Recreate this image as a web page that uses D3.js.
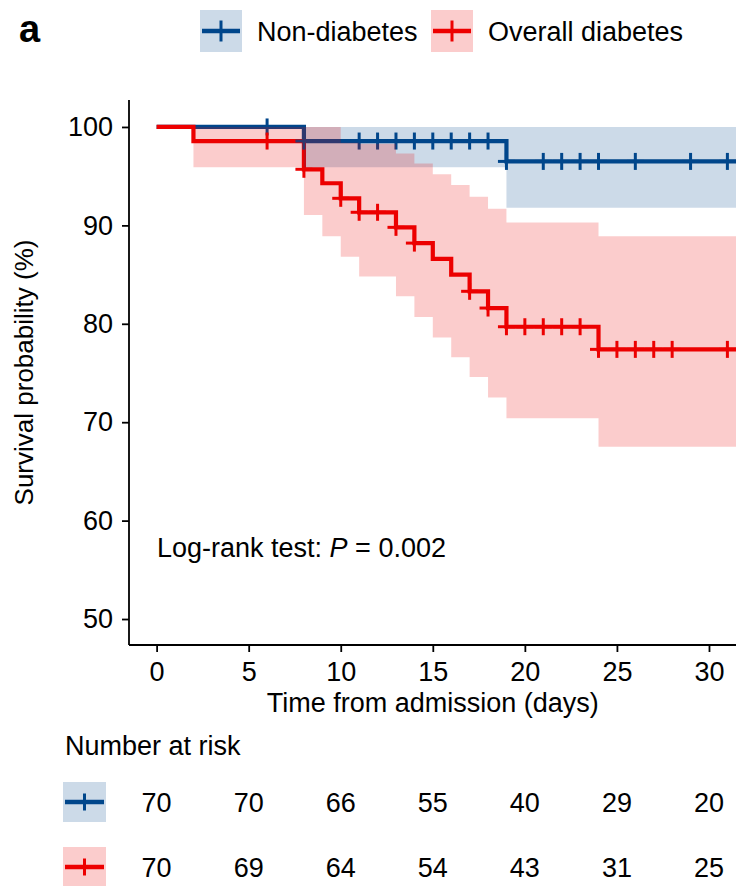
<!DOCTYPE html>
<html>
<head>
<meta charset="utf-8">
<script src="https://cdn.jsdelivr.net/npm/d3@7"></script>
<style>
  html, body { margin: 0; padding: 0; background: #fff; }
  svg { display: block; font-family: "Liberation Sans", Arial, sans-serif; }
</style>
</head>
<body>
<svg id="chart" width="736" height="886"></svg>
<script>
// ---------------- data ----------------
const groupNames = ["Non-diabetes", "Overall diabetes"];
const groupColors = ["#00468B", "#ED0000"];

// Non-diabetes KM step function
const blueTimes = [0, 8, 19];
const blueSurv  = [100, 98.57, 96.5];
const blueUpper = [100, 100, 100];
const blueLower = [100, 95.9, 91.8];
const blueCensor = [6, 8, 11, 12, 13, 14, 15, 16, 17, 18, 19, 21, 22, 23, 24, 26, 29, 31];

// Overall diabetes KM step function
const redTimes = [0, 2, 8, 9, 10, 11, 13, 14, 15, 16, 17, 18, 19, 24];
const redSurv  = [100, 98.57, 95.7, 94.28, 92.75, 91.33, 89.8, 88.2, 86.6, 85.0, 83.3, 81.6, 79.7, 77.4];
const redUpper = [100, 100, 100, 100, 98.4, 98.3, 97.3, 96.3, 95.2, 94.1, 92.9, 91.7, 90.3, 88.9];
const redLower = [100, 95.9, 91.06, 88.9, 86.8, 84.8, 82.8, 80.7, 78.6, 76.6, 74.6, 72.5, 70.4, 67.5];
const redCensor = [6, 8, 10, 11, 12, 13, 14, 17, 18, 19, 20, 21, 22, 23, 24, 25, 26, 27, 28, 31];

const followEnd = 32;

const xTicks = [0, 5, 10, 15, 20, 25, 30];
const yTicks = [50, 60, 70, 80, 90, 100];

const riskTimes = [0, 5, 10, 15, 20, 25, 30];
const riskBlue = [70, 70, 66, 55, 40, 29, 20];
const riskRed  = [70, 69, 64, 54, 43, 31, 25];

// ---------------- layout ----------------
const svg = d3.select("#chart");
const FS = 27;      // horizontal text
const FSV = 26;     // rotated y title
const panel = { left: 129, right: 736.6, top: 100, bottom: 645 };

const x = d3.scaleLinear().domain([-1.5, 31.5]).range([panel.left, panel.right]);
const y = d3.scaleLinear().domain([47.36, 102.74]).range([panel.bottom, panel.top]);

svg.append("defs").append("clipPath").attr("id", "clip")
  .append("rect").attr("x", panel.left).attr("y", panel.top)
  .attr("width", panel.right - panel.left).attr("height", panel.bottom - panel.top);

function buildSeries(times, surv, upper, lower) {
  const pts = times.map((t, i) => ({ t, s: surv[i], u: upper[i], l: lower[i] }));
  const last = pts[pts.length - 1];
  pts.push({ t: followEnd, s: last.s, u: last.u, l: last.l });
  return pts;
}
const series = [
  { pts: buildSeries(blueTimes, blueSurv, blueUpper, blueLower), censor: blueCensor, times: blueTimes, surv: blueSurv, color: groupColors[0] },
  { pts: buildSeries(redTimes, redSurv, redUpper, redLower), censor: redCensor, times: redTimes, surv: redSurv, color: groupColors[1] }
];

function survAt(s, t) {
  let v = s.surv[0];
  for (let i = 0; i < s.times.length; i++) if (s.times[i] <= t) v = s.surv[i];
  return v;
}

const plot = svg.append("g").attr("clip-path", "url(#clip)");

const line = d3.line().x(d => x(d.t)).y(d => y(d.s)).curve(d3.curveStepAfter);
const area = d3.area().x(d => x(d.t)).y0(d => y(d.l)).y1(d => y(d.u)).curve(d3.curveStepAfter);

// lines: blue first, red on top
series.forEach(s => {
  plot.append("path").attr("d", line(s.pts))
    .attr("fill", "none").attr("stroke", s.color).attr("stroke-width", 4.2)
    .attr("stroke-linejoin", "miter");
});
// censor marks
series.forEach(s => {
  const g = plot.append("g").attr("stroke", s.color).attr("stroke-width", 3);
  s.censor.forEach(t => {
    const cx = x(t), cy = y(survAt(s, t));
    g.append("line").attr("x1", cx - 8.5).attr("x2", cx + 8.5).attr("y1", cy).attr("y2", cy);
    g.append("line").attr("x1", cx).attr("x2", cx).attr("y1", cy - 8.5).attr("y2", cy + 8.5);
  });
});
// confidence ribbons
series.forEach(s => {
  plot.append("path").attr("d", area(s.pts))
    .attr("fill", s.color).attr("fill-opacity", 0.2).attr("stroke", "none");
});

// ---------------- axes ----------------
const yAxis = svg.append("g").attr("transform", `translate(${panel.left},0)`)
  .call(d3.axisLeft(y).tickValues(yTicks).tickSize(7).tickSizeOuter(0).tickPadding(9));
const xAxis = svg.append("g").attr("transform", `translate(0,${panel.bottom})`)
  .call(d3.axisBottom(x).tickValues(xTicks).tickSize(7).tickSizeOuter(0).tickPadding(10));
[yAxis, xAxis].forEach(a => {
  a.select(".domain").attr("stroke", "#000").attr("stroke-width", 1.8);
  a.selectAll(".tick line").attr("stroke", "#000").attr("stroke-width", 1.8);
  a.selectAll(".tick text").attr("fill", "#000").style("font-size", FS + "px")
    .style("font-family", "'Liberation Sans', Arial, sans-serif");
});
yAxis.select(".domain").attr("d", `M0,${panel.top}V${panel.bottom}`);
xAxis.select(".domain").attr("d", `M${panel.left},0H${panel.right}`);

svg.append("text").attr("x", (panel.left + panel.right) / 2).attr("y", 712)
  .attr("text-anchor", "middle").style("font-size", FS + "px")
  .text("Time from admission (days)");

svg.append("text").attr("transform", `translate(33,${(panel.top + panel.bottom) / 2}) rotate(-90)`)
  .attr("text-anchor", "middle").style("font-size", FSV + "px")
  .text("Survival probability (%)");

// log-rank annotation
const lr = svg.append("text").attr("x", 157).attr("y", 557).style("font-size", FS + "px");
lr.append("tspan").text("Log-rank test: ");
lr.append("tspan").attr("font-style", "italic").text("P");
lr.append("tspan").text(" = 0.002");

// ---------------- top legend ----------------
svg.append("text").attr("x", 19).attr("y", 42).attr("font-weight", "bold")
  .style("font-size", "38px").text("a");

function legendKey(g, x0, y0, w, h, color, vlen) {
  g.append("rect").attr("x", x0).attr("y", y0).attr("width", w).attr("height", h)
    .attr("fill", color).attr("fill-opacity", 0.2);
  const cy = y0 + h / 2, cx = x0 + w / 2;
  g.append("line").attr("x1", x0 + 2).attr("x2", x0 + w - 2).attr("y1", cy).attr("y2", cy)
    .attr("stroke", color).attr("stroke-width", 4.5);
  g.append("line").attr("x1", cx).attr("x2", cx).attr("y1", cy - vlen / 2).attr("y2", cy + vlen / 2)
    .attr("stroke", color).attr("stroke-width", 3);
}
const leg = svg.append("g");
const legX = [200, 431];
const legTextX = [257, 488];
groupNames.forEach((name, i) => {
  legendKey(leg, legX[i], 10, 42, 42, groupColors[i], 21);
  leg.append("text").attr("x", legTextX[i]).attr("y", 41).style("font-size", FS + "px").text(name);
});

// ---------------- risk table ----------------
svg.append("text").attr("x", 65).attr("y", 755).style("font-size", FS + "px").text("Number at risk");
const riskRows = [riskBlue, riskRed];
const rowBaseline = [812, 877];
const rowBoxY = [782, 847];
riskRows.forEach((row, i) => {
  legendKey(svg.append("g"), 63, rowBoxY[i], 43, 40, groupColors[i], 17);
  row.forEach((v, j) => {
    svg.append("text").attr("x", x(riskTimes[j])).attr("y", rowBaseline[i])
      .attr("text-anchor", "middle").style("font-size", FS + "px").text(v);
  });
});
</script>
</body>
</html>
